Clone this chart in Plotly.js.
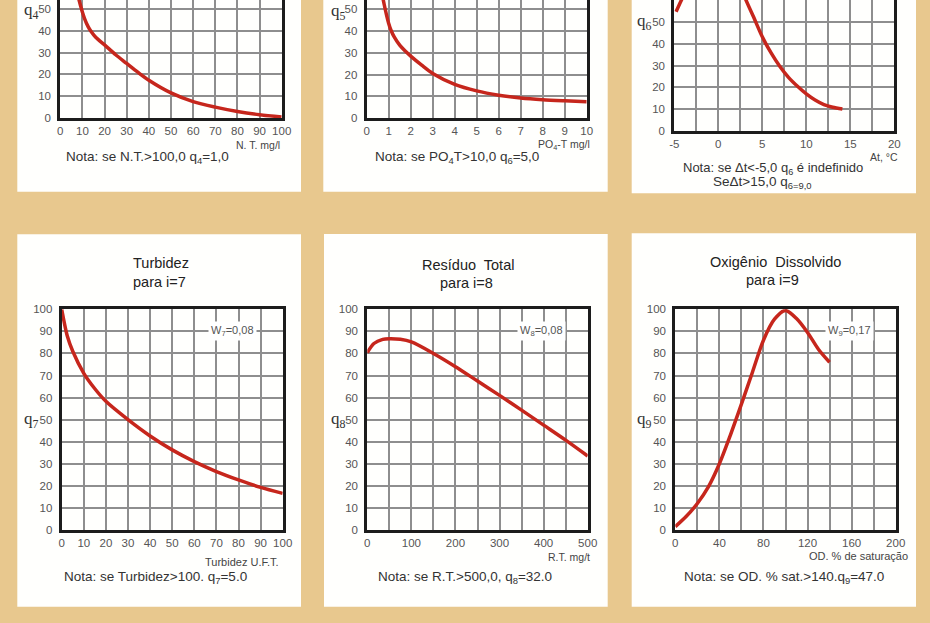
<!DOCTYPE html>
<html><head><meta charset="utf-8">
<script src="https://cdn.plot.ly/plotly-3.0.1.min.js"></script>
<style>html,body{margin:0;padding:0;background:#e8c88e;} #chart{width:930px;height:623px;}</style>
</head><body><div id="chart"></div>
<script>
// ---- data ----
const ntX  = [7.5, 8.5, 10, 11, 12.5, 14, 16, 20, 25, 30, 35, 40, 50, 60, 70, 80, 90, 100];
const ntQ  = [58, 54, 48.5, 45.5, 42, 39.5, 37, 33.5, 29, 25, 21, 17.3, 11.5, 7.5, 5, 3, 1.5, 0.5];

const poX  = [0.7, 0.8, 0.9, 1, 1.1, 1.25, 1.5, 1.75, 2, 2.5, 3, 4, 5, 6, 7, 8, 9, 10];
const poQ  = [57, 52, 47.5, 43.5, 40.5, 37.3, 33.5, 30.8, 28.5, 24.3, 20.5, 15.5, 12.5, 10.5, 9.2, 8.4, 7.9, 7.5];

const dtX  = [-4.8, -4.2, -3, -1.5, 0, 1.5, 2.5, 3, 4, 5, 6, 7, 8, 9, 10, 11, 12, 13, 14.1];
const dtQ  = [54.7, 60, 70, 81, 88, 80, 68, 61.5, 52.4, 43.2, 35.8, 29.6, 24.5, 20.5, 17, 14.2, 12.1, 10.9, 10.1];

const tuX  = [0, 2.5, 5, 10, 15, 20, 30, 40, 50, 60, 70, 80, 90, 100];
const tuQ  = [100, 88, 81, 71, 64, 58.3, 50, 42.6, 36.3, 31, 26.5, 22.7, 19.3, 16.6];

const rtX  = [0, 15, 35, 50, 75, 100, 150, 200, 250, 300, 350, 400, 450, 500];
const rtQ  = [80.4, 84.5, 86.4, 86.7, 86.4, 85.2, 80, 74, 67.5, 61, 54.3, 47.5, 40.7, 33.5];

const odX  = [0, 10, 20, 30, 40, 50, 60, 70, 80, 90, 100, 110, 120, 130, 140];
const odQ  = [1.5, 6.2, 12, 19.5, 30, 43, 57, 71.5, 86, 95.5, 99.5, 95.8, 89.5, 81.8, 76];

// ---- tick labels ----
const yTicks   = [0,10,20,30,40,50,60,70,80,90,100];
const yLabels  = ['0','10','20','30','40','50','60','70','80','90','100'];
const ntTicks  = [0,10,20,30,40,50,60,70,80,90,100];
const ntLabels = ['0','10','20','30','40','50','60','70','80','90','100'];
const poTicks  = [0,1,2,3,4,5,6,7,8,9,10];
const poLabels = ['0','1','2','3','4','5','6','7','8','9','10'];
const dtTicks  = [-5,0,5,10,15,20];
const dtLabels = ['-5','0','5','10','15','20'];
const tuTicks  = [0,10,20,30,40,50,60,70,80,90,100];
const tuLabels = ['0','10','20','30','40','50','60','70','80','90','100'];
const rtTicks  = [0,100,200,300,400,500];
const rtLabels = ['0','100','200','300','400','500'];
const odTicks  = [0,40,80,120,160,200];
const odLabels = ['0','40','80','120','160','200'];

// ---- styling ----
const W = 930, H = 623;
const px = x => x / W;
const py = y => 1 - y / H;
const RED = 'rgb(198,38,28)';
const GRID = '#8e8e8e';
const LINE = '#1c1c1c';
const FONT = 'Liberation Sans, Arial, sans-serif';
const TF = {family: FONT, size: 11.5, color: '#555'};

function curve(x, y, n) {
  return {x: x, y: y, xaxis: 'x' + (n === 1 ? '' : n), yaxis: 'y' + (n === 1 ? '' : n),
    type: 'scatter', mode: 'lines', line: {color: RED, width: 3.5, shape: 'spline', smoothing: 0.8},
    hoverinfo: 'skip'};
}
function xa(dom, rng, vals, txt, anchor, mirror, minorStep) {
  const a = {domain: dom, range: rng, anchor: anchor, tickmode: 'array', tickvals: vals, ticktext: txt,
    showgrid: true, gridcolor: GRID, gridwidth: 2, showline: true, linecolor: LINE, linewidth: 3,
    mirror: mirror, zeroline: false, ticks: '', tickfont: TF, fixedrange: true};
  if (minorStep) a.minor = {dtick: minorStep, tick0: rng[0], showgrid: true, gridcolor: GRID, gridwidth: 2, ticks: ''};
  return a;
}
function ya(dom, rng, anchor) {
  return {domain: dom, range: rng, anchor: anchor, tickmode: 'array', tickvals: yTicks, ticktext: yLabels,
    showgrid: true, gridcolor: GRID, gridwidth: 2, showline: true, linecolor: LINE, linewidth: 3,
    mirror: true, zeroline: false, ticks: 'outside', ticklen: 4, tickcolor: 'rgba(0,0,0,0)',
    tickfont: TF, fixedrange: true};
}

const data = [
  curve(ntX, ntQ, 1), curve(poX, poQ, 2), curve(dtX, dtQ, 3),
  curve(tuX, tuQ, 4), curve(rtX, rtQ, 5), curve(odX, odQ, 6)
];

const topY = [py(118), 1];
const topYr = [py(131), 1];
const botY = [py(530), py(309.3)];

const layout = {
  width: W, height: H, margin: {l: 0, r: 0, t: 0, b: 0},
  paper_bgcolor: '#e8c88e', plot_bgcolor: '#ffffff', showlegend: false, hovermode: false,
  xaxis:  xa([px(60.3), px(281.7)], [0, 100], ntTicks, ntLabels, 'y', false),
  yaxis:  ya(topY, [0, 54.1], 'x'),
  xaxis2: xa([px(366.7), px(586.7)], [0, 10], poTicks, poLabels, 'y2', false),
  yaxis2: ya(topY, [0, 54.3], 'x2'),
  xaxis3: xa([px(674.3), px(894.3)], [-5, 20], dtTicks, dtLabels, 'y3', false, 2.5),
  yaxis3: ya(topYr, [0, 60.1], 'x3'),
  xaxis4: xa([px(61.7), px(282.7)], [0, 100], tuTicks, tuLabels, 'y4', true),
  yaxis4: ya(botY, [0, 100], 'x4'),
  xaxis5: xa([px(367.3), px(587.7)], [0, 500], rtTicks, rtLabels, 'y5', true, 50),
  yaxis5: ya(botY, [0, 100], 'x5'),
  xaxis6: xa([px(675.3), px(895.7)], [0, 200], odTicks, odLabels, 'y6', true, 20),
  yaxis6: ya(botY, [0, 100], 'x6'),
  shapes: [
    [17.3, -20, 301, 191.7], [323.3, -20, 607.7, 191.7], [631.7, -20, 916, 193.3],
    [17.3, 234.3, 301, 606.7], [324, 234, 607.7, 606.7], [631.7, 233.3, 916, 606.7]
  ].map(r => ({type: 'rect', xref: 'paper', yref: 'paper', x0: px(r[0]), x1: px(r[2]),
    y0: py(r[3]), y1: py(r[1]), fillcolor: '#fffffd', line: {width: 0}, layer: 'below'})),
  annotations: []
};

const A = layout.annotations;
function txt(text, x, y, size, color, anchor) {
  A.push({text: text, xref: 'paper', yref: 'paper', x: px(x), y: py(y), xanchor: anchor || 'center',
    yanchor: 'middle', showarrow: false, font: {family: FONT, size: size, color: color}});
}
function qlab(text, x, yref, yv) {
  A.push({text: text, xref: 'paper', yref: yref, x: px(x), y: yv, xanchor: 'center', yanchor: 'middle',
    showarrow: false, font: {family: 'Liberation Serif, Times New Roman, serif', size: 17, color: '#333'}});
}
function wlab(text, x, xref, yref) {
  A.push({text: text, xref: xref, yref: yref, x: x, y: 90, xanchor: 'center', yanchor: 'middle',
    showarrow: false, bgcolor: '#ffffff', borderpad: 2,
    font: {family: FONT, size: 11, color: '#555'}});
}

// y-axis labels q_i
qlab('q<sub>4</sub>', 31, 'y', 49);
qlab('q<sub>5</sub>', 338, 'y2', 49);
qlab('q<sub>6</sub>', 644, 'y3', 50);
qlab('q<sub>7</sub>', 31, 'y4', 50);
qlab('q<sub>8</sub>', 338, 'y5', 50);
qlab('q<sub>9</sub>', 644, 'y6', 50);

// weights
wlab('W<sub>7</sub>=0,08', 77.5, 'x4', 'y4');
wlab('W<sub>8</sub>=0,08', 395, 'x5', 'y5');
wlab('W<sub>9</sub>=0,17', 158, 'x6', 'y6');

// panel titles
txt('Turbidez', 160.5, 263.3, 14.5, '#222');
txt('para i=7', 159, 282.3, 14.5, '#222');
txt('Resíduo  Total', 468, 265, 14.5, '#222');
txt('para i=8', 466, 283, 14.5, '#222');
txt('Oxigênio  Dissolvido', 775, 261.7, 14.5, '#222');
txt('para i=9', 772.5, 280, 14.5, '#222');

// axis titles (right aligned)
txt('N. T. mg/l', 281.7, 145, 10.5, '#444', 'right');
txt('PO<sub>4</sub>-T mg/l', 591.7, 145, 10.5, '#444', 'right');
txt('At, °C', 900, 157, 10.5, '#444', 'right');
txt('Turbidez U.F.T.', 281, 561.7, 11, '#444', 'right');
txt('R.T. mg/t', 591.7, 556.7, 10.5, '#444', 'right');
txt('OD. % de saturação', 910, 556, 11, '#444', 'right');

// notes
txt('Nota: se N.T.>100,0 q<sub>4</sub>=1,0', 147, 157, 13.5, '#333');
txt('Nota: se PO<sub>4</sub>T>10,0 q<sub>6</sub>=5,0', 457, 157, 13.5, '#333');
txt('Nota: se Δt<-5,0 q<sub>6</sub> é indefinido', 773, 168, 13, '#333');
txt('SeΔt>15,0 q<sub>6=9,0</sub>', 762, 182, 13.5, '#333');
txt('Nota: se Turbidez>100. q<sub>7</sub>=5.0', 155, 577, 13.5, '#333');
txt('Nota: se R.T.>500,0, q<sub>8</sub>=32.0', 465, 577, 13.5, '#333');
txt('Nota: se OD. % sat.>140.q<sub>9</sub>=47.0', 784, 577, 13.5, '#333');

Plotly.newPlot('chart', data, layout, {staticPlot: true, displayModeBar: false});
</script>
</body></html>
